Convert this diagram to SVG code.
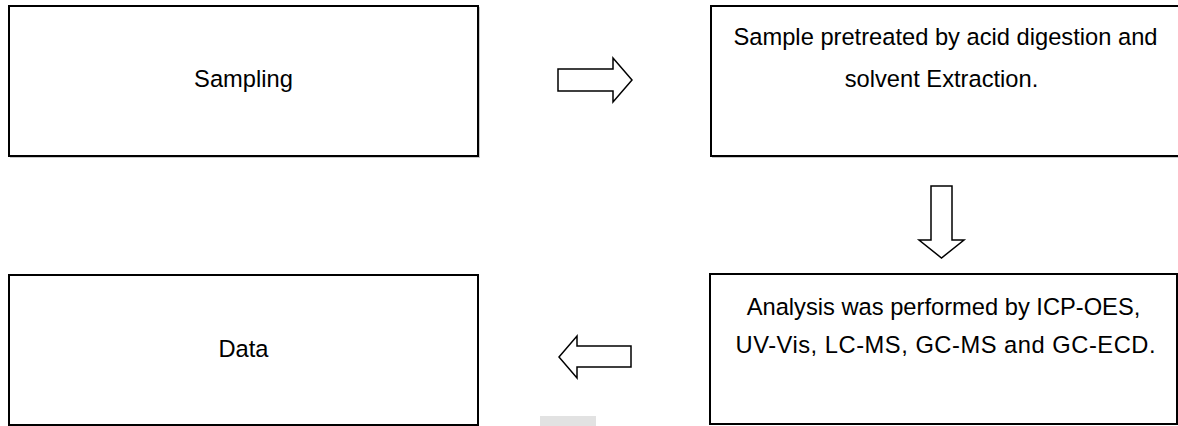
<svg xmlns="http://www.w3.org/2000/svg" width="1178" height="426" viewBox="0 0 1178 426">
<style>
.box{fill:#fff;stroke:#000;stroke-width:2}
.shadow{fill:none;stroke:#c8c8c8;stroke-width:1}
.lbl{font-family:"Liberation Sans",Arial,sans-serif;font-size:23.7px;fill:#000;text-anchor:middle}
.arr{fill:#fff;stroke:#000;stroke-width:1.5;stroke-linejoin:miter}
</style>
<rect width="1178" height="426" fill="#fff"/>
<rect x="540" y="416" width="56" height="10" fill="#e2e2e2"/>
<g id="sampling">
<rect class="shadow" x="10.5" y="7.5" width="469" height="150"/>
<rect class="box" x="9" y="6" width="469" height="150"/>
<text class="lbl" x="243.5" y="87">Sampling</text>
</g>
<g id="pretreatment">
<rect class="shadow" x="712.5" y="7.5" width="470" height="150"/>
<rect class="box" x="711" y="6" width="470" height="150"/>
<text class="lbl" x="945.5" y="45">Sample pretreated by acid digestion and</text>
<text class="lbl" x="941.5" y="87">solvent Extraction.</text>
</g>
<g id="analysis">
<rect class="box" x="710" y="274" width="467" height="150"/>
<text class="lbl" x="943.5" y="315">Analysis was performed by ICP-OES,</text>
<text class="lbl" x="945.5" y="353" textLength="420" lengthAdjust="spacing">UV-Vis, LC-MS, GC-MS and GC-ECD.</text>
</g>
<g id="data">
<rect class="box" x="9" y="275" width="469" height="150"/>
<text class="lbl" x="243.5" y="357">Data</text>
</g>
<g id="connectors">
<polygon class="arr" points="558,69 613,69 613,58 632,80 613,102 613,91 558,91"/>
<polygon class="arr" points="931,186 952,186 952,240 964,240 941.5,258 919,240 931,240"/>
<polygon class="arr" points="631,346 577,346 577,336 559,357 577,378 577,367 631,367"/>
</g>
</svg>
